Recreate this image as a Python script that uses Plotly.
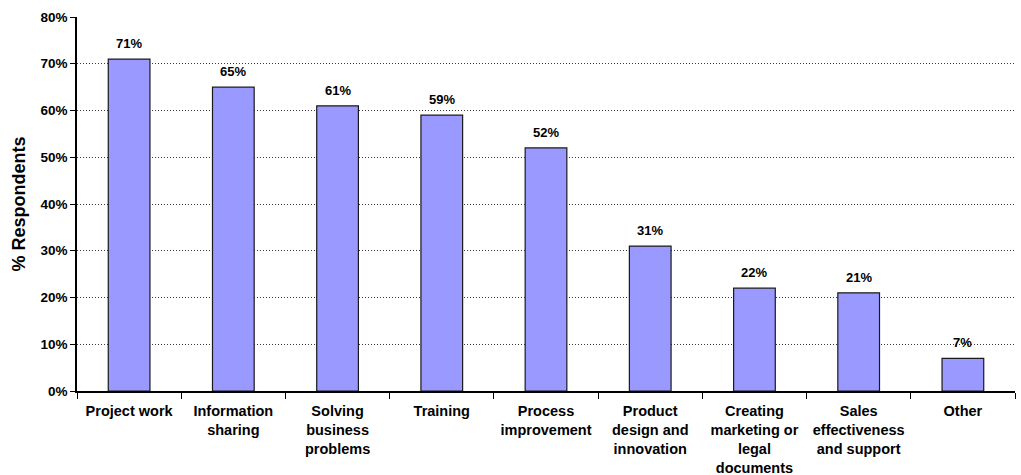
import plotly.graph_objects as go

categories = [
    "Project work",
    "Information<br>sharing",
    "Solving<br>business<br>problems",
    "Training",
    "Process<br>improvement",
    "Product<br>design and<br>innovation",
    "Creating<br>marketing or<br>legal<br>documents",
    "Sales<br>effectiveness<br>and support",
    "Other",
]
values = [71, 65, 61, 59, 52, 31, 22, 21, 7]
y_ticks = [0, 10, 20, 30, 40, 50, 60, 70, 80]
y_tick_labels = [f"{v}%" for v in y_ticks]

FONT = "Liberation Sans, Arial, sans-serif"

fig = go.Figure()
fig.add_trace(
    go.Bar(
        x=categories,
        y=values,
        width=0.4,
        marker=dict(color="#9999FF", line=dict(color="#1a1a1a", width=1.2)),
        hoverinfo="skip",
    )
)

# value labels sitting just above each bar
for c, v in zip(categories, values):
    fig.add_annotation(
        x=c,
        y=v,
        text=f"<b>{v}%</b>",
        showarrow=False,
        yanchor="bottom",
        yshift=6,
        font=dict(family=FONT, size=13, color="#000000"),
    )

fig.update_layout(
    width=1021,
    height=475,
    margin=dict(l=77, r=6, t=17, b=84),
    paper_bgcolor="white",
    plot_bgcolor="white",
    showlegend=False,
    bargap=0.6,
    font=dict(family=FONT, color="#000000"),
)

fig.update_yaxes(
    range=[0, 80],
    tickvals=y_ticks,
    ticktext=[f"<b>{t}</b>" for t in y_tick_labels],
    tickfont=dict(family=FONT, size=13.5, color="#000000"),
    ticks="outside",
    ticklen=5,
    tickcolor="#000000",
    showline=True,
    linecolor="#000000",
    linewidth=1.5,
    showgrid=True,
    gridcolor="#3a3a3a",
    griddash="1px,2px",
    gridwidth=1,
    zeroline=False,
    title=dict(
        text="<b>% Respondents</b>",
        font=dict(family=FONT, size=18, color="#000000"),
        standoff=10,
    ),
)

fig.update_xaxes(
    type="category",
    automargin=False,
    tickson="boundaries",
    ticks="outside",
    ticklen=6,
    tickcolor="#000000",
    showline=True,
    linecolor="#000000",
    linewidth=1.5,
    tickfont=dict(family=FONT, size=14.5, color="#000000"),
    ticktext=[f"<b>{c}</b>" for c in categories],
    tickvals=categories,
    ticklabelstandoff=6,
    showgrid=False,
)

fig.write_html("out.html")
